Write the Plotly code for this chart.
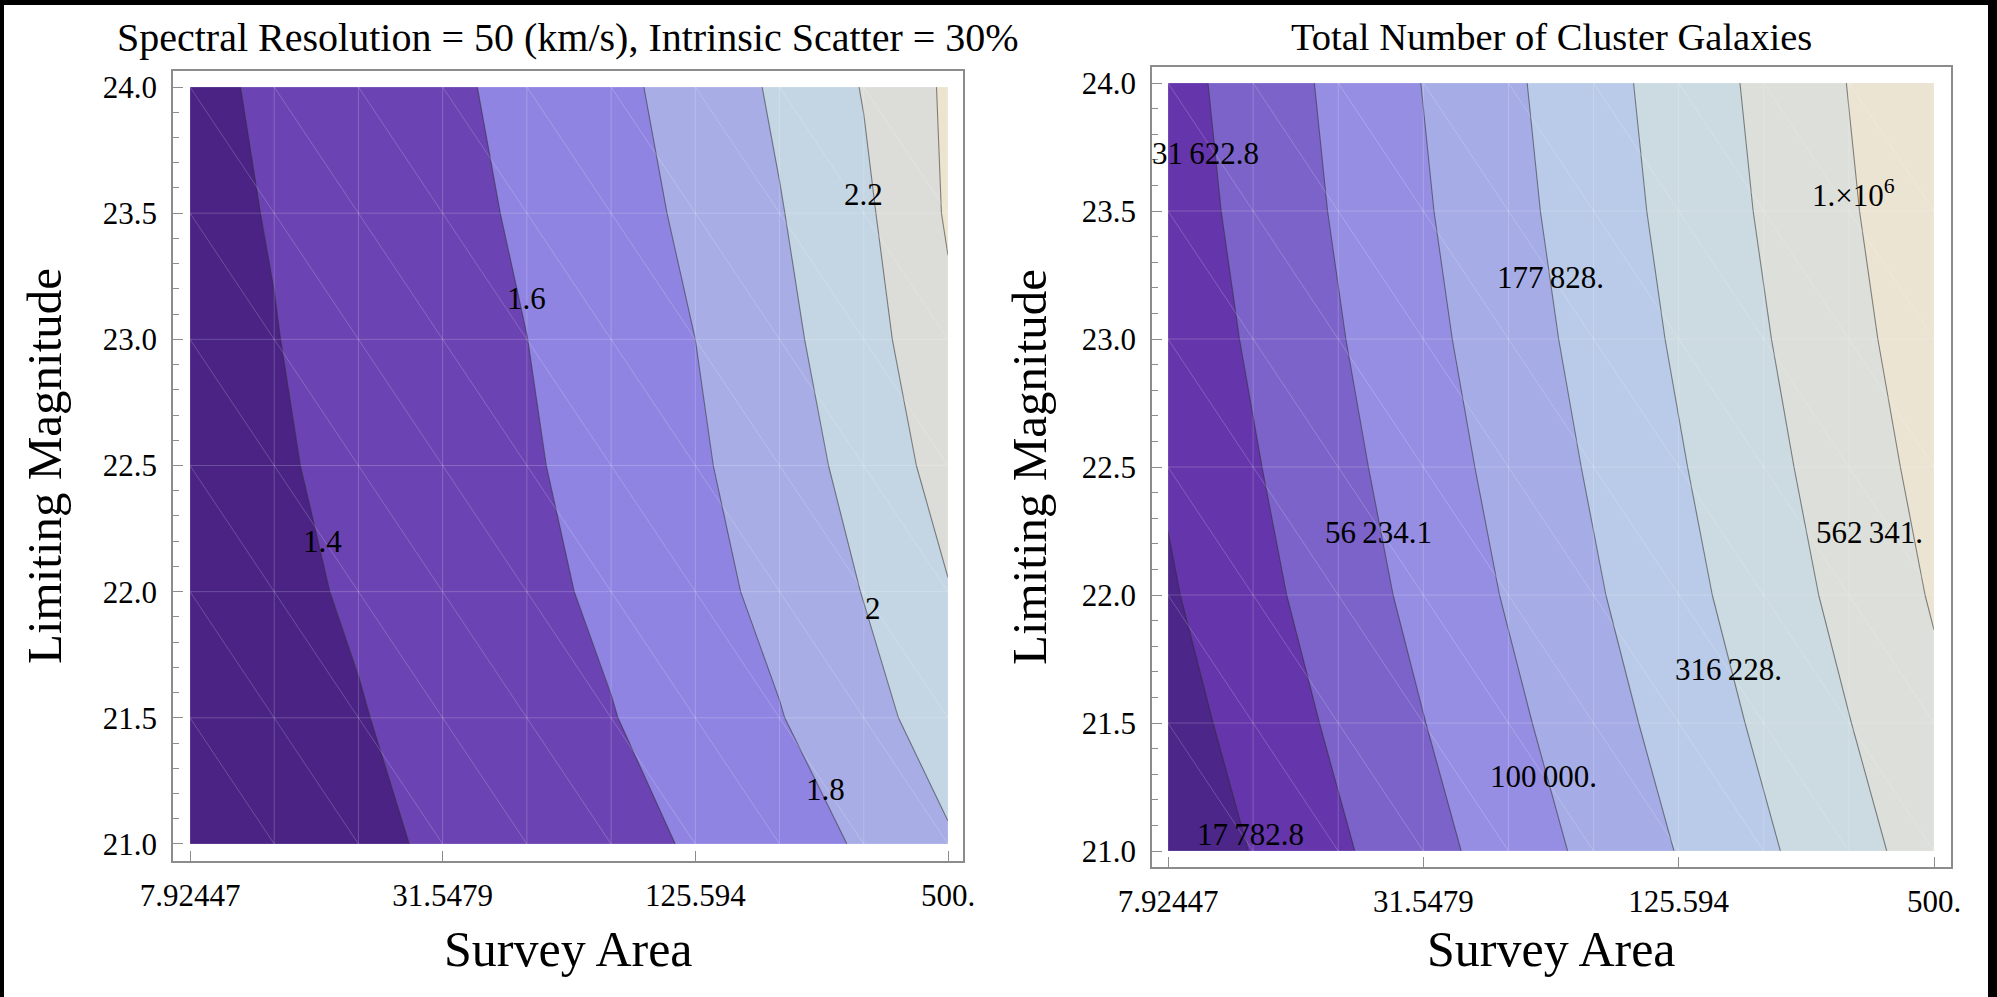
import numpy as np
import plotly.graph_objects as go

W, H = 1997, 997

# ---------------- data ----------------
survey_area = [7.92447, 12.5594, 19.9054, 31.5479, 50.0, 79.2447, 125.594, 199.054, 315.479, 500.0]
limiting_mag = [21.0, 21.5, 22.0, 22.5, 23.0, 23.5, 24.0]

# left panel: contour quantity (rows follow limiting_mag, columns follow survey_area)
resolution_z = [
    [1.267, 1.315, 1.362, 1.425, 1.483, 1.552, 1.615, 1.720, 1.820, 1.980],
    [1.295, 1.343, 1.391, 1.455, 1.524, 1.592, 1.690, 1.791, 1.937, 2.090],
    [1.317, 1.365, 1.418, 1.486, 1.555, 1.635, 1.736, 1.855, 2.006, 2.190],
    [1.333, 1.381, 1.442, 1.510, 1.579, 1.670, 1.771, 1.907, 2.067, 2.280],
    [1.347, 1.395, 1.461, 1.530, 1.599, 1.699, 1.800, 1.950, 2.118, 2.360],
    [1.359, 1.408, 1.479, 1.548, 1.624, 1.725, 1.838, 1.989, 2.163, 2.420],
    [1.370, 1.420, 1.497, 1.565, 1.650, 1.751, 1.877, 2.032, 2.210, 2.430],
]
left_levels = [1.4, 1.6, 1.8, 2.0, 2.2, 2.4]
left_label_text = ["1.4", "1.6", "1.8", "2", "2.2"]
left_label_area = [16.33, 49.95, 255.9, 331.0, 314.6]
left_label_mag = [22.20, 23.163, 21.215, 21.932, 23.572]

# right panel: log10 of total number of cluster galaxies
log10_galaxies = [
    [4.061, 4.261, 4.461, 4.661, 4.861, 5.061, 5.261, 5.461, 5.661, 5.861],
    [4.144, 4.344, 4.544, 4.744, 4.944, 5.144, 5.344, 5.544, 5.744, 5.944],
    [4.221, 4.421, 4.621, 4.821, 5.021, 5.221, 5.421, 5.621, 5.821, 6.021],
    [4.279, 4.479, 4.679, 4.879, 5.079, 5.279, 5.479, 5.679, 5.879, 6.079],
    [4.332, 4.532, 4.732, 4.932, 5.132, 5.332, 5.532, 5.732, 5.932, 6.132],
    [4.375, 4.575, 4.775, 4.975, 5.175, 5.375, 5.575, 5.775, 5.975, 6.175],
    [4.406, 4.606, 4.806, 5.006, 5.206, 5.406, 5.606, 5.806, 6.006, 6.206],
]
right_levels = [4.25, 4.5, 4.75, 5.0, 5.25, 5.5, 5.75, 6.0]
right_label_text = ["31\u2009622.8", "17\u2009782.8", "56\u2009234.1", "100\u2009000.",
                    "177\u2009828.", "316\u2009228.", "562\u2009341.", "1.\u00d710<sup>6</sup>"]
right_label_area = [9.70, 12.40, 24.7, 60.5, 62.7, 164.4, 353.0, 323.6]
right_label_mag = [23.726, 21.066, 22.245, 21.29, 23.24, 21.71, 22.245, 23.57]

x_tick_vals = [7.92447, 31.5479, 125.594, 500.0]
x_tick_text = ["7.92447", "31.5479", "125.594", "500."]

left_title = "Spectral Resolution = 50 (km/s), Intrinsic Scatter = 30%"
right_title = "Total Number of Cluster Galaxies"
x_label = "Survey Area"
y_label = "Limiting Magnitude"

# ---------------- styles ----------------
left_colors = ["#4a2384", "#6b43b2", "#8f84e2", "#a8ade6", "#c4d5e3", "#dcdcd8", "#ede4cf"]
right_colors = ["#4c2689", "#6535ab", "#7b63c9", "#968ee3", "#a6ace6", "#b9cbe8", "#cbdbe1",
                "#dcdfda", "#ece4d2"]
FONT = "Liberation Serif"
FRAME = "#8c8c8c"


def step_scale(cols):
    n = len(cols) - 1
    return [[k / n, c] for k, c in enumerate(cols)]


def px_x(p):
    return p / W


def px_y(p):
    return 1 - p / H


fig = go.Figure()


def add_panel(z, levels, colors, xa, ya):
    fig.add_trace(go.Contour(
        x=survey_area, y=limiting_mag, z=z, xaxis=xa, yaxis=ya,
        autocontour=False,
        contours=dict(start=levels[0], end=levels[-1], size=levels[1] - levels[0],
                      coloring="fill", showlines=True),
        colorscale=step_scale(colors), showscale=False,
        line=dict(color="rgba(45,45,45,0.55)", width=1.1, smoothing=0),
        hoverinfo="skip",
    ))
    # faint triangulation mesh of the sampling grid
    mx, my = [], []
    for xv in survey_area:
        mx += [xv, xv, None]
        my += [limiting_mag[0], limiting_mag[-1], None]
    for yv in limiting_mag:
        mx += [survey_area[0], survey_area[-1], None]
        my += [yv, yv, None]
    for i in range(len(survey_area) - 1):
        for j in range(len(limiting_mag) - 1):
            mx += [survey_area[i], survey_area[i + 1], None]
            my += [limiting_mag[j + 1], limiting_mag[j], None]
    fig.add_trace(go.Scatter(x=mx, y=my, xaxis=xa, yaxis=ya, mode="lines",
                             line=dict(color="rgba(255,255,255,0.20)", width=1),
                             hoverinfo="skip", showlegend=False))


add_panel(resolution_z, left_levels, left_colors, "x", "y")
add_panel(log10_galaxies, right_levels, right_colors, "x2", "y2")


def xaxis_cfg(dom, rng, anchor):
    return dict(domain=dom, type="log", range=rng, anchor=anchor, automargin=False,
                tickmode="array", tickvals=x_tick_vals, ticktext=x_tick_text,
                ticks="inside", ticklen=10, tickwidth=1.3, tickcolor=FRAME,
                showline=True, linecolor=FRAME, linewidth=1.6, mirror=True,
                showgrid=False, zeroline=False, ticklabelstandoff=6,
                tickfont=dict(family=FONT, size=31, color="black"))


def yaxis_cfg(dom, rng, anchor):
    return dict(domain=dom, range=rng, anchor=anchor, automargin=False,
                tick0=21, dtick=0.5, tickformat=".1f",
                ticks="inside", ticklen=10, tickwidth=1.3, tickcolor=FRAME,
                minor=dict(ticks="inside", ticklen=6, tickwidth=1.1, tickcolor=FRAME,
                           dtick=0.1, tick0=21, showgrid=False),
                showline=True, linecolor=FRAME, linewidth=1.6, mirror=True,
                showgrid=False, zeroline=False, ticklabelstandoff=8,
                tickfont=dict(family=FONT, size=31, color="black"))


fig.update_layout(
    template="none",
    width=W, height=H, autosize=False,
    margin=dict(l=0, r=0, t=0, b=0, pad=0),
    paper_bgcolor="white", plot_bgcolor="white", showlegend=False,
    xaxis=xaxis_cfg([px_x(173), px_x(963)], [0.8586, 2.7346], "y"),
    yaxis=yaxis_cfg([px_y(861), px_y(71)], [20.9326, 24.0634], "x"),
    xaxis2=xaxis_cfg([px_x(1152), px_x(1951)], [0.86137, 2.73892], "y2"),
    yaxis2=yaxis_cfg([px_y(867), px_y(67)], [20.9375, 24.0625], "x2"),
)

ann = []
for t, a, m in zip(left_label_text, left_label_area, left_label_mag):
    ann.append(dict(x=np.log10(a), y=m, xref="x", yref="y", text=t, showarrow=False,
                    font=dict(family=FONT, size=31, color="black")))
for t, a, m in zip(right_label_text, right_label_area, right_label_mag):
    ann.append(dict(x=np.log10(a), y=m, xref="x2", yref="y2", text=t, showarrow=False,
                    font=dict(family=FONT, size=31, color="black")))

# titles and axis labels
for cx, title, fs in [(568, left_title, 40), (1551, right_title, 38.5)]:
    ann.append(dict(x=px_x(cx), y=px_y(37), xref="paper", yref="paper", text=title,
                    showarrow=False, xanchor="center", yanchor="middle",
                    font=dict(family=FONT, size=fs, color="black")))
for cx in (568, 1551):
    ann.append(dict(x=px_x(cx), y=px_y(949), xref="paper", yref="paper", text=x_label,
                    showarrow=False, xanchor="center", yanchor="middle",
                    font=dict(family=FONT, size=50, color="black")))
for cx, cy in ((45, 466), (1029, 467)):
    ann.append(dict(x=px_x(cx), y=px_y(cy), xref="paper", yref="paper", text=y_label,
                    showarrow=False, xanchor="center", yanchor="middle", textangle=-90,
                    font=dict(family=FONT, size=49, color="black")))
fig.update_layout(annotations=ann)

# black screenshot border
shapes = [
    dict(type="rect", xref="paper", yref="paper", x0=0, x1=1, y0=px_y(5), y1=1,
         fillcolor="black", line=dict(width=0), layer="above"),
    dict(type="rect", xref="paper", yref="paper", x0=0, x1=px_x(4), y0=0, y1=1,
         fillcolor="black", line=dict(width=0), layer="above"),
    dict(type="rect", xref="paper", yref="paper", x0=px_x(1988), x1=1, y0=0, y1=1,
         fillcolor="black", line=dict(width=0), layer="above"),
]
fig.update_layout(shapes=shapes)

fig.write_html("out.html", config={"displayModeBar": False},
               post_script="document.body.style.margin='0';document.body.style.overflow='hidden';")
